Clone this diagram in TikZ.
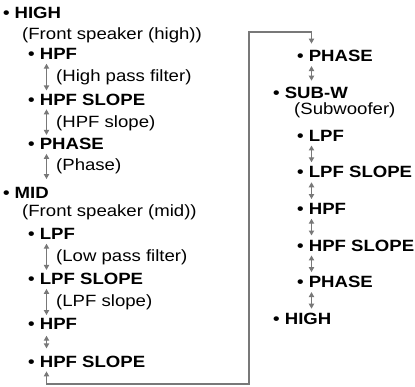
\documentclass[tikz,border=0pt]{standalone}
\usepackage{fontspec}
\setmainfont{Liberation Sans}[FakeStretch=1.14]
\usetikzlibrary{arrows.meta}
\definecolor{arrgray}{RGB}{120,120,120}
\newcommand\lblsize{\fontsize{16.3}{19}\selectfont}
\tikzset{
  itm/.style={anchor=base west,inner sep=0pt,font=\lblsize\bfseries},
  dsc/.style={anchor=base west,inner sep=0pt,font=\lblsize},
  updn/.style={{Triangle[width=5.2pt,length=5pt]}-{Triangle[width=5.2pt,length=5pt]},line width=1.7pt,draw=arrgray,shorten <=3.5pt,shorten >=3.5pt},
  backarr/.style={updn,shorten <=4pt,shorten >=6.5pt}
}
\begin{document}
\begin{tikzpicture}[x=1pt,y=-1pt]
  \useasboundingbox (0,0) rectangle (415,387);
  % left column: HIGH and MID
  \node[itm] (high) at (2.8,18.5) {• HIGH};
  \node[dsc] (highd) at (22,39.5) {(Front speaker (high))};
  \node[itm] (hhpf) at (28,60) {• HPF};
  \node[dsc] (hhpfd) at (56,81.5) {(High pass filter)};
  \node[itm] (hhpfs) at (28,105.5) {• HPF SLOPE};
  \node[dsc] (hhpfsd) at (56,127.5) {(HPF slope)};
  \node[itm] (hphase) at (28,150) {• PHASE};
  \node[dsc] (hphased) at (56,171) {(Phase)};
  \node[itm] (mid) at (2.8,198.5) {• MID};
  \node[dsc] (midd) at (22,217) {(Front speaker (mid))};
  \node[itm] (mlpf) at (28,240) {• LPF};
  \node[dsc] (mlpfd) at (56,262) {(Low pass filter)};
  \node[itm] (mlpfs) at (28,285) {• LPF SLOPE};
  \node[dsc] (mlpfsd) at (56,306.5) {(LPF slope)};
  \node[itm] (mhpf) at (28,330) {• HPF};
  \node[itm] (mhpfs) at (28,367) {• HPF SLOPE};

  % right column: rest of MID, SUB-W
  \node[itm] (mphase) at (297,61.7) {• PHASE};
  \node[itm] (sub) at (273,98.3) {• SUB-W};
  \node[dsc] (subd) at (294,114.3) {(Subwoofer)};
  \node[itm] (slpf) at (297,141.3) {• LPF};
  \node[itm] (slpfs) at (297,177.9) {• LPF SLOPE};
  \node[itm] (shpf) at (297,214.5) {• HPF};
  \node[itm] (shpfs) at (297,251.1) {• HPF SLOPE};
  \node[itm] (sphase) at (297,287.7) {• PHASE};
  \node[itm] (highb) at (273,324.3) {• HIGH};

  \coordinate (colL) at (46.5,0);
  \coordinate (colR) at (311.5,0);
  \coordinate (turnB) at (249,384);
  \coordinate (turnT) at (311.5,32);

  % arrows, left
  \draw[updn] (hhpf.south -| colL) -- (hhpfs.north -| colL);
  \draw[updn] (hhpfs.south -| colL) -- (hphase.north -| colL);
  \draw[updn,shorten >=8pt] (hphase.south -| colL) -- (mid.north -| colL);
  \draw[updn] (mlpf.south -| colL) -- (mlpfs.north -| colL);
  \draw[updn] (mlpfs.south -| colL) -- (mhpf.north -| colL);
  \draw[updn,shorten <=5.5pt,shorten >=7pt] (mhpf.south -| colL) -- (mhpfs.north -| colL);

  % wrap to the right column
  \draw[backarr] (mhpfs.south -| colL) |- (turnB) |- (turnT) -- (mphase.north -| colR);

  % arrows, right
  \draw[updn,shorten <=4pt,shorten >=6pt] (mphase.south -| colR) -- (sub.north -| colR);
  \draw[updn,shorten <=4pt,shorten >=4pt] (slpf.south -| colR) -- (slpfs.north -| colR);
  \draw[updn,shorten <=4pt,shorten >=4pt] (slpfs.south -| colR) -- (shpf.north -| colR);
  \draw[updn,shorten <=4pt,shorten >=4pt] (shpf.south -| colR) -- (shpfs.north -| colR);
  \draw[updn,shorten <=4pt,shorten >=4pt] (shpfs.south -| colR) -- (sphase.north -| colR);
  \draw[updn,shorten <=4pt,shorten >=4pt] (sphase.south -| colR) -- (highb.north -| colR);
\end{tikzpicture}
\end{document}
